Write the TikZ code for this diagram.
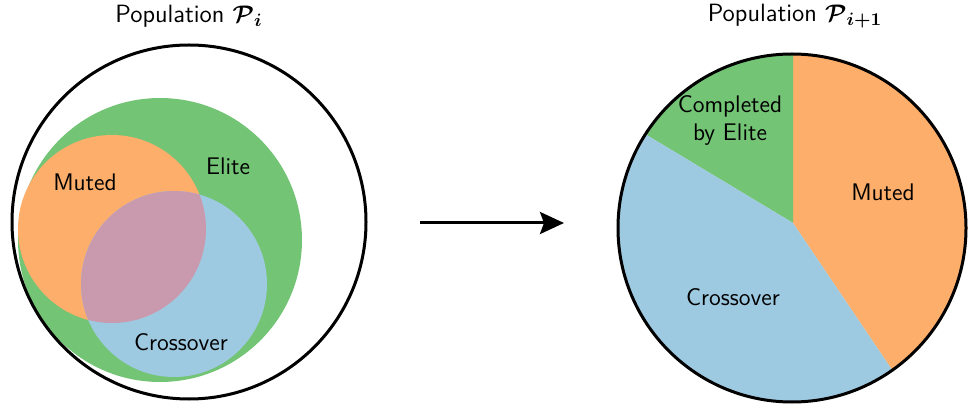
\documentclass[tikz,border=0pt]{standalone}
\usepackage{bm}
\usetikzlibrary{positioning,arrows.meta}
\definecolor{eli}{HTML}{74C476}
\definecolor{mut}{HTML}{FDAE6B}
\definecolor{crs}{HTML}{9ECAE1}
\definecolor{ovl}{HTML}{C99AAD}
\tikzset{
  lbl/.style={font=\sffamily\fontsize{12}{14}\selectfont, align=center, inner sep=1pt},
  ttl/.style={font=\sffamily\fontsize{12.5}{15}\selectfont, inner sep=1pt},
  rim/.style={draw, line width=1.5pt}}
\begin{document}
\begin{tikzpicture}[x=0.5pt, y=0.5pt]
\useasboundingbox (0,0) rectangle (968,407);
% left: population i
\coordinate (popL) at (189,185);
\coordinate (eliC) at (160,167);
\coordinate (mutC) at (112,178);
\coordinate (crsC) at (174,123);
\fill[eli] (eliC) circle (142);
\fill[mut] (mutC) circle (94);
\fill[crs] (crsC) circle (93);
\begin{scope}
  \clip (mutC) circle (94);
  \fill[ovl] (crsC) circle (93);
\end{scope}
\draw[rim] (popL) circle (177);
\node[ttl] (ttlL) at (189,391) {Population $\bm{\mathcal{P}_{i}}$};
\node[lbl] (mutL) at (85,225) {Muted};
\node[lbl] (eliL) at (228,241) {Elite};
\node[lbl] (crsL) at (181,65) {Crossover};
% arrow
\coordinate (arrS) at (420,184);
\coordinate (arrE) at (564,184);
\draw[line width=1.5pt, -{Stealth[length=12pt, width=11pt, inset=2pt]}] (arrS) -- (arrE);
% right: population i+1
\coordinate (popR) at (792,179);
\coordinate (pieC) at (793,184);
\begin{scope}
  \clip (popR) circle (174);
  \fill[mut] (pieC) -- ++(-56:190) arc (-56:90:190) -- cycle;
  \fill[eli] (pieC) -- ++(90:190) arc (90:149:190) -- cycle;
  \fill[crs] (pieC) -- ++(149:190) arc (149:304:190) -- cycle;
\end{scope}
\draw[rim] (popR) circle (174);
\node[ttl] (ttlR) at (795,391) {Population $\bm{\mathcal{P}_{i+1}}$};
\node[lbl] (cmpR) at (730,287) {Completed\\by Elite};
\node[lbl] (mutR) at (883,215) {Muted};
\node[lbl] (crsR) at (733,110) {Crossover};
\end{tikzpicture}
\end{document}
